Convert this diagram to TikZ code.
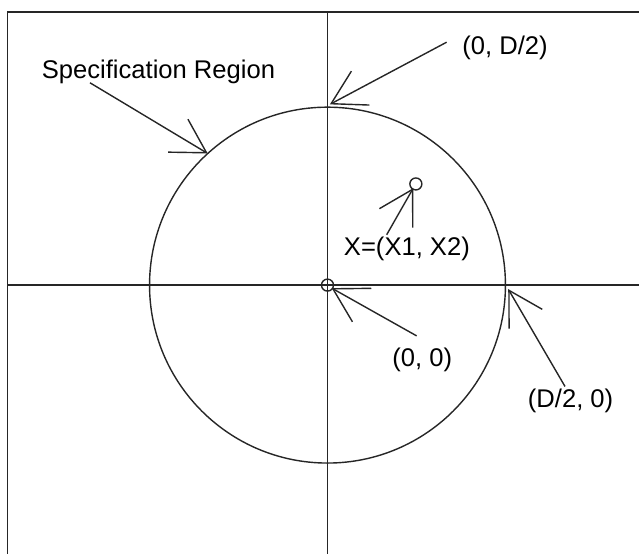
\documentclass[tikz,border=0pt]{standalone}
\usepackage{fontspec}
\setmainfont{Liberation Sans}
\usetikzlibrary{arrows.meta}
\tikzset{
    coordtext/.style={inner sep=0pt, anchor=base west, font=\fontsize{18.2}{21}\selectfont},
    pointer/.style={-{Straight Barb[length=0.83cm,width=0.96cm]}},
    dot/.style={circle, draw, minimum size=0.3cm, inner sep=0pt}
}

\begin{document}
\begin{tikzpicture}[line width=1pt, draw=black!85]
    \useasboundingbox (-8.19,-6.72) rectangle (7.79,7.13);
    % Frame and axes
    \draw (-8,-6.72) -- (-8,6.83) -- (7.79,6.83);
    \draw (-8,0) -- (7.79,0);
    \draw (0,-6.72) -- (0,6.83);
    % Specification region
    \draw (0,0) circle (4.45);
    % Points
    \node[dot] (origin) at (0,0) {};
    \node[dot] (xpoint) at (2.21,2.53) {};
    % Labels
    \node[coordtext] (spec) at (-7.16,5.16) {Specification Region};
    \node[coordtext] (toplab) at (3.355,5.76) {(0, D/2)};
    \node[coordtext] (xlab) at (0.395,0.74) {X=(X1, X2)};
    \node[coordtext] (originlab) at (1.605,-2.04) {(0, 0)};
    \node[coordtext] (rightlab) at (4.995,-3.06) {(D/2, 0)};
    % Arrow ends
    \coordinate (spec-tail) at (-5.94,5.06);
    \coordinate (spec-tip) at (132.3:4.45);
    \coordinate (top-tail) at (2.98,6.075);
    \coordinate (top-tip) at (0.06,4.52);
    \coordinate (x-tail) at (1.48,1.26);
    \coordinate (x-tip) at (2.145,2.425);
    \coordinate (origin-tail) at (2.23,-1.27);
    \coordinate (origin-tip) at (0.105,-0.075);
    \coordinate (right-tail) at (5.94,-2.535);
    \coordinate (right-tip) at (4.52,-0.1);
    % Arrows
    \draw[pointer] (spec-tail) -- (spec-tip);
    \draw[pointer] (top-tail) -- (top-tip);
    \draw[pointer] (x-tail) -- (x-tip);
    \draw[pointer] (origin-tail) -- (origin-tip);
    \draw[pointer] (right-tail) -- (right-tip);
\end{tikzpicture}
\end{document}
